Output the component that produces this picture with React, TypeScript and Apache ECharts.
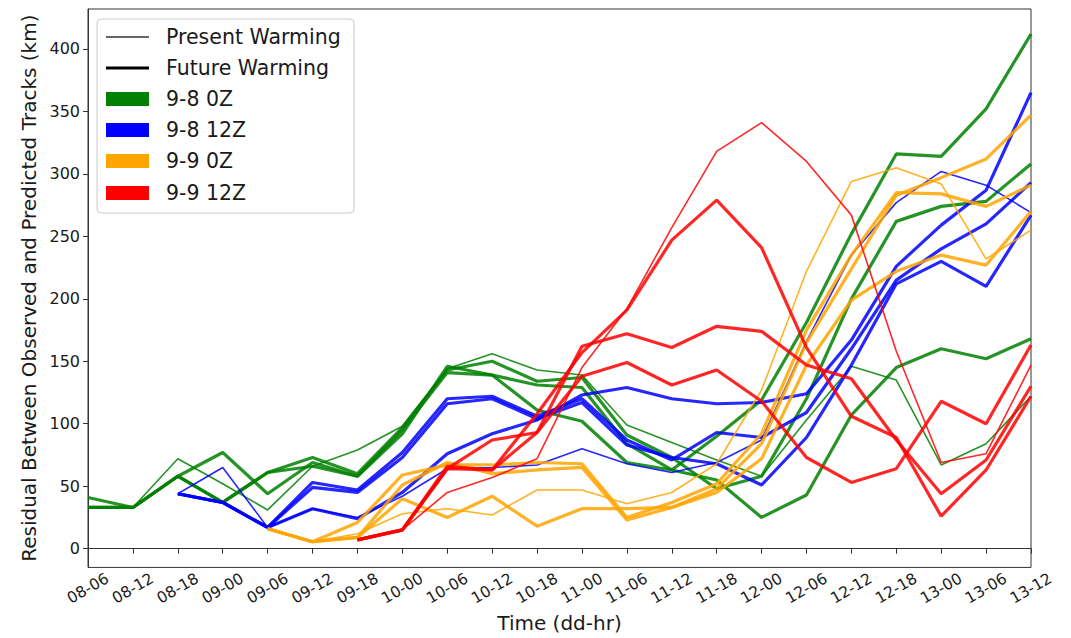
import React, { useEffect, useRef } from "react";
import * as echarts from "echarts";

// ---------- data ----------
const categories = [
  "08-06", "08-12", "08-18", "09-00", "09-06", "09-12", "09-18", "10-00", "10-06", "10-12", "10-18",
  "11-00", "11-06", "11-12", "11-18", "12-00", "12-06", "12-12", "12-18", "13-00", "13-06", "13-12",
];
const yTicks = [0, 50, 100, 150, 200, 250, 300, 350, 400];

const n = null;
// 9-8 0Z (green)
const g98_0z_present = [33, 33, 72, 52, 31, 66, 79, 98, 144, 156, 143, 139, 99, 85, 71, 58, 103, 146, 135, 67, 84, 122];
const g98_0z_future1 = [41, 33, 58, 77, 44, 69, 58, 92, 146, 139, 131, 129, 84, 63, 90, 119, 181, 252, 316, 314, 352, 412];
const g98_0z_future2 = [33, 33, 58, 37, 61, 73, 60, 97, 143, 150, 134, 137, 91, 73, 48, 58, 120, 200, 262, 274, 278, 308];
const g98_0z_future3 = [33, 33, 58, 37, 61, 66, 58, 95, 141, 139, 111, 102, 69, 63, 55, 25, 43, 107, 145, 160, 152, 168];
// 9-8 12Z (blue)
const b98_12z_present = [n, n, 44, 65, 17, 32, 25, 42, 64, 65, 67, 80, 68, 61, 69, 87, 166, 235, 277, 302, 291, 269];
const b98_12z_future1 = [n, n, 44, 37, 17, 32, 24, 45, 76, 92, 103, 123, 129, 120, 116, 117, 124, 167, 226, 259, 287, 365];
const b98_12z_future2 = [n, n, 44, 37, 17, 53, 47, 77, 120, 122, 106, 120, 87, 71, 93, 89, 109, 160, 215, 240, 260, 293];
const b98_12z_future3 = [n, n, 44, 37, 17, 49, 45, 73, 116, 120, 104, 117, 83, 73, 68, 51, 89, 147, 212, 230, 210, 267];
// 9-9 0Z (orange)
const o99_0z_present = [n, n, n, n, 16, 5.6, 12, 28, 32, 27, 47, 47, 36, 45, 68, 127, 222, 294, 305, 292, 232, 255];
const o99_0z_future1 = [n, n, n, n, 16, 5.6, 21, 59, 67, 67, 69, 68, 25, 37, 52, 92, 175, 235, 285, 284, 274, 291];
const o99_0z_future2 = [n, n, n, n, 16, 5.6, 9, 51, 69, 60, 63, 65, 23, 33, 48, 84, 165, 224, 283, 297, 312, 347];
const o99_0z_future3 = [n, n, n, n, 16, 5.6, 9, 40, 25, 42, 18, 32, 32, 33, 45, 72, 147, 199, 222, 235, 227, 270];
// 9-9 12Z (red)
const r99_12z_present = [n, n, n, n, n, n, 7, 15, 45, 57, 72, 145, 192, 257, 318, 341, 310, 267, 158, 69, 76, 147];
const r99_12z_future1 = [n, n, n, n, n, n, 7, 15, 64, 63, 108, 157, 191, 247, 279, 241, 161, 106, 89, 26, 63, 122];
const r99_12z_future2 = [n, n, n, n, n, n, 7, 15, 64, 87, 93, 162, 172, 161, 178, 174, 147, 136, 87, 44, 71, 130];
const r99_12z_future3 = [n, n, n, n, n, n, 7, 15, 66, 63, 93, 138, 149, 131, 143, 118, 73, 53, 64, 118, 100, 163];

const runNames = ["9-8 0Z", "9-8 12Z", "9-9 0Z", "9-9 12Z"];
const runColors = ["#008000", "#0000ff", "#ffa500", "#ff0000"];
const styleLabels = ["Present Warming", "Future Warming"];

const presentSets = [g98_0z_present, b98_12z_present, o99_0z_present, r99_12z_present];
const futureSets = [
  [g98_0z_future1, g98_0z_future2, g98_0z_future3],
  [b98_12z_future1, b98_12z_future2, b98_12z_future3],
  [o99_0z_future1, o99_0z_future2, o99_0z_future3],
  [r99_12z_future1, r99_12z_future2, r99_12z_future3],
];

const FONT = '"DejaVu Sans", "Liberation Sans", sans-serif';
const TXT = "#1a1a1a";
const THIN = 1.6;
const THICK = 3.2;

export default function App() {
  const ref = useRef<HTMLDivElement>(null);

  useEffect(() => {
    if (!ref.current) return;
    const chart = echarts.init(ref.current, undefined, { renderer: "svg" });

    const series: any[] = [];
    runNames.forEach((rn, i) => {
      const color = runColors[i];
      series.push({
        name: rn + " present",
        type: "line",
        data: presentSets[i],
        symbol: "none",
        showSymbol: false,
        silent: true,
        lineStyle: { color, width: THIN, opacity: 0.85 },
        itemStyle: { color },
        z: 2 + i,
      });
      futureSets[i].forEach((d, j) => {
        series.push({
          name: rn + " future " + (j + 1),
          type: "line",
          data: d,
          symbol: "none",
          showSymbol: false,
          silent: true,
          lineStyle: { color, width: THICK, opacity: 0.85 },
          itemStyle: { color },
          z: 2 + i,
        });
      });
    });

    // legend drawn as graphic
    const lx = 97, ly = 19, lw = 257, lh = 194;
    const rowY = [37, 68, 99, 130, 161, 193];
    const hx1 = 106, hx2 = 149, tx = 166;
    const graphic: any[] = [
      {
        type: "rect",
        shape: { x: lx, y: ly, width: lw, height: lh, r: 4 },
        style: { fill: "rgba(255,255,255,0.8)", stroke: "#cccccc", lineWidth: 1 },
        z: 100,
      },
    ];
    styleLabels.forEach((lab, k) => {
      graphic.push({
        type: "line",
        shape: { x1: hx1, y1: rowY[k], x2: hx2, y2: rowY[k] },
        style: { stroke: k === 0 ? "#333" : "#000", lineWidth: k === 0 ? 1.5 : 3 },
        z: 101,
      });
      graphic.push({
        type: "text",
        x: tx,
        y: rowY[k],
        style: { text: lab, fill: TXT, font: "20.5px " + FONT, verticalAlign: "middle", align: "left" },
        z: 101,
      });
    });
    runNames.forEach((rn, i) => {
      const yy = rowY[i + 2];
      graphic.push({
        type: "rect",
        shape: { x: hx1, y: yy - 7, width: hx2 - hx1, height: 14 },
        style: { fill: runColors[i] },
        z: 101,
      });
      graphic.push({
        type: "text",
        x: tx,
        y: yy,
        style: { text: rn, fill: TXT, font: "20.5px " + FONT, verticalAlign: "middle", align: "left" },
        z: 101,
      });
    });

    chart.setOption({
      animation: false,
      backgroundColor: "#ffffff",
      textStyle: { fontFamily: FONT },
      grid: {
        left: 88,
        right: 40,
        top: 9,
        bottom: 67,
        show: true,
        borderColor: "#333",
        borderWidth: 1,
        backgroundColor: "transparent",
      },
      xAxis: {
        type: "category",
        data: categories,
        boundaryGap: false,
        name: "Time (dd-hr)",
        nameLocation: "middle",
        nameGap: 44,
        nameTextStyle: { fontSize: 20, color: TXT, fontFamily: FONT },
        axisLine: { show: true, lineStyle: { color: "#333", width: 1 } },
        axisTick: { show: true, length: 5, inside: false, lineStyle: { color: "#333" } },
        axisLabel: {
          interval: 0,
          rotate: 30,
          align: "center",
          verticalAlign: "middle",
          margin: 21,
          fontSize: 15.5,
          color: TXT,
          fontFamily: FONT,
        },
        splitLine: { show: false },
      },
      yAxis: {
        type: "value",
        min: -15,
        max: 432,
        name: "Residual Between Observed and Predicted Tracks (km)",
        nameLocation: "middle",
        nameGap: 45,
        nameTextStyle: { fontSize: 20, color: TXT, fontFamily: FONT },
        axisLine: { show: true, lineStyle: { color: "#333", width: 1 } },
        axisTick: { show: true, length: 5, inside: false, customValues: yTicks, lineStyle: { color: "#333" } },
        axisLabel: { customValues: yTicks, fontSize: 16, color: TXT, margin: 8, fontFamily: FONT },
        splitLine: { show: false },
      },
      series,
      graphic,
    });

    return () => {
      chart.dispose();
    };
  }, []);

  return (
    <div
      ref={ref}
      style={{ position: "fixed", left: 0, top: 0, width: 1071, height: 638, background: "#fff" }}
    />
  );
}
